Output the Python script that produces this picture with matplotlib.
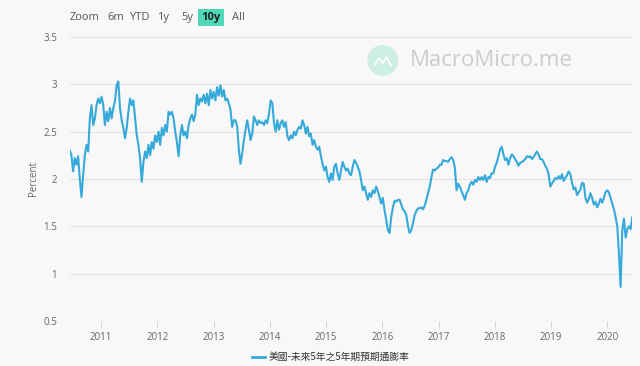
import numpy as np
import pandas as pd
import matplotlib
matplotlib.use("Agg")
import matplotlib.pyplot as plt
import matplotlib.dates as mdates
from matplotlib.patches import Ellipse

plt.rcParams['font.family'] = ['Open Sans', 'Noto Sans CJK TC', 'DejaVu Sans']

# 5y5y forward inflation expectation (percent), sampled about every 11 days
start_date = "2010-06-12"
end_date = "2020-06-12"

values_2010_2012 = [
    2.30, 2.25, 2.08, 2.22, 2.15, 2.24, 2.00, 1.81, 2.04, 2.25, 2.36, 2.29,
    2.64, 2.78, 2.57, 2.64, 2.78, 2.85, 2.80, 2.87, 2.78, 2.57, 2.71, 2.61,
    2.75, 2.64, 2.75, 2.82, 2.99, 3.03, 2.75, 2.62, 2.54, 2.43, 2.54, 2.71,
    2.85, 2.78, 2.83, 2.64, 2.46, 2.36, 2.22, 1.97, 2.18, 2.29, 2.22, 2.36,
    2.25, 2.39, 2.32, 2.46, 2.39, 2.50, 2.36, 2.54, 2.46, 2.57, 2.50, 2.71,
    2.68, 2.71, 2.64, 2.50, 2.39, 2.24, 2.46, 2.57, 2.46, 2.50, 2.43, 2.57,
    2.64, 2.68, 2.61, 2.68, 2.89, 2.78, 2.85, 2.82, 2.89, 2.80, 2.90, 2.78,
    2.94,
]
values_2013_2015 = [
    2.85, 2.92, 2.83, 2.97, 2.88, 2.99, 2.87, 2.94, 2.83, 2.85, 2.80, 2.73,
    2.55, 2.62, 2.62, 2.55, 2.31, 2.16, 2.27, 2.41, 2.52, 2.62, 2.52, 2.41,
    2.48, 2.66, 2.62, 2.57, 2.62, 2.59, 2.60, 2.57, 2.62, 2.59, 2.69, 2.83,
    2.80, 2.59, 2.50, 2.62, 2.52, 2.59, 2.62, 2.55, 2.60, 2.45, 2.41, 2.46,
    2.43, 2.50, 2.46, 2.52, 2.55, 2.53, 2.62, 2.57, 2.48, 2.55, 2.45, 2.48,
    2.36, 2.41, 2.34, 2.31, 2.34, 2.24, 2.16, 2.09, 2.13, 2.02, 1.97, 2.06,
    1.99, 2.13, 2.16, 2.06, 1.99, 2.09, 2.18, 2.13, 2.09, 2.11, 2.06, 2.04,
]
values_2015_2017 = [
    2.13, 2.20, 2.17, 2.13, 2.08, 1.99, 1.88, 1.92, 1.85, 1.78, 1.85, 1.81,
    1.88, 1.85, 1.92, 1.87, 1.81, 1.74, 1.80, 1.67, 1.57, 1.46, 1.43, 1.60,
    1.70, 1.77, 1.76, 1.78, 1.78, 1.73, 1.68, 1.66, 1.62, 1.50, 1.43, 1.46,
    1.53, 1.62, 1.66, 1.69, 1.69, 1.70, 1.68, 1.72, 1.78, 1.85, 1.92, 2.02,
    2.10, 2.09, 2.11, 2.12, 2.15, 2.15, 2.20, 2.19, 2.19, 2.18, 2.21, 2.23,
    2.20, 2.12, 1.88, 1.95, 1.92, 1.87, 1.83, 1.78, 1.85, 1.88, 1.94, 1.97,
    1.94, 1.99, 1.97, 2.02, 1.99, 2.02, 1.99, 2.04, 1.97, 2.02, 2.01, 2.06,
]
values_2018_2020 = [
    2.06, 2.13, 2.17, 2.24, 2.31, 2.34, 2.26, 2.20, 2.22, 2.15, 2.22, 2.26,
    2.24, 2.21, 2.18, 2.14, 2.17, 2.18, 2.19, 2.21, 2.24, 2.23, 2.24, 2.21,
    2.23, 2.26, 2.29, 2.26, 2.21, 2.21, 2.18, 2.14, 2.11, 2.05, 1.92, 1.95,
    1.98, 2.01, 2.00, 2.03, 2.00, 2.05, 1.98, 2.01, 2.04, 2.08, 2.05, 1.96,
    1.89, 1.91, 1.83, 1.86, 1.89, 1.96, 1.95, 1.80, 1.75, 1.79, 1.85, 1.80,
    1.73, 1.76, 1.70, 1.74, 1.79, 1.75, 1.80, 1.86, 1.88, 1.86, 1.80, 1.74,
    1.68, 1.60, 1.50, 1.22, 0.86, 1.46, 1.58, 1.38, 1.47, 1.50, 1.47, 1.60,
]

series_name = "美國-未來5年之5年期預期通膨率"
y_ticks = [0.5, 1, 1.5, 2, 2.5, 3, 3.5]
y_tick_labels = ["0.5", "1", "1.5", "2", "2.5", "3", "3.5"]
range_buttons = ["Zoom", "6m", "YTD", "1y", "5y", "10y", "All"]

values = values_2010_2012 + values_2013_2015 + values_2015_2017 + values_2018_2020
dates = pd.date_range(start_date, end_date, periods=len(values))

bg = '#f8f8f8'
line_color = '#35a9d9'

fig = plt.figure(figsize=(6.4, 3.66), dpi=100, facecolor=bg)
ax = fig.add_axes([0.109, 0.123, 0.879, 0.776], facecolor=bg)

ax.plot(dates, values, color=line_color, lw=1.5, solid_joinstyle='round')

ax.set_ylim(0.5, 3.5)
ax.set_yticks(y_ticks)
ax.set_yticklabels(y_tick_labels)
ax.set_xlim(pd.Timestamp(start_date), pd.Timestamp(end_date))
ax.xaxis.set_major_locator(mdates.YearLocator())
ax.xaxis.set_major_formatter(mdates.DateFormatter('%Y'))

ax.grid(axis='y', color='#e3e3e3', lw=0.8)
ax.set_axisbelow(True)
for s in ax.spines.values():
    s.set_visible(False)
ax.tick_params(axis='y', length=0, pad=9, labelsize=7, labelcolor='#666666')
ax.tick_params(axis='x', length=5, width=0.6, color='#cccccc', pad=3,
               labelsize=7, labelcolor='#666666')
ax.set_ylabel('Percent', fontsize=7, color='#666666', labelpad=3)

# range selector buttons
btn_x = [0.109, 0.167, 0.201, 0.246, 0.284, 0.315, 0.362]
for label, bx in zip(range_buttons, btn_x):
    if label == '10y':
        fig.text(bx, 0.952, label, fontsize=8, color='#222222', fontweight='bold',
                 va='center', ha='left',
                 bbox=dict(boxstyle='square,pad=0.3', fc='#4fd8b8', ec='none'))
    else:
        fig.text(bx, 0.952, label, fontsize=8, color='#555555',
                 va='center', ha='left')

# watermark: round logo with a small chart icon, then the site name
cx, cy = 0.598, 0.835
asp = 640 / 366  # keep the logo round in figure coords
fig.patches.append(Ellipse((cx, cy), 0.048, 0.048 * asp, transform=fig.transFigure,
                           fc='#cdeee5', ec='none'))
icon_x = [cx - 0.013, cx - 0.006, cx, cx + 0.006, cx + 0.013]
icon_y = [cy - 0.008 * asp, cy + 0.004 * asp, cy - 0.004 * asp,
          cy + 0.005 * asp, cy - 0.008 * asp]
fig.lines.append(plt.Line2D(icon_x, icon_y, transform=fig.transFigure,
                            color='white', lw=1.3))
fig.text(0.641, 0.835, 'MacroMicro.me', fontsize=16, color='#cccccc',
         va='center', ha='left')

# legend
fig.lines.append(plt.Line2D([0.394, 0.414], [0.025, 0.025], transform=fig.transFigure,
                            color=line_color, lw=2))
fig.text(0.419, 0.025, series_name, fontsize=7, color='#333333', va='center',
         ha='left', family=['Noto Sans CJK TC', 'DejaVu Sans'])

fig.savefig('out.png', dpi=100, facecolor=bg)
